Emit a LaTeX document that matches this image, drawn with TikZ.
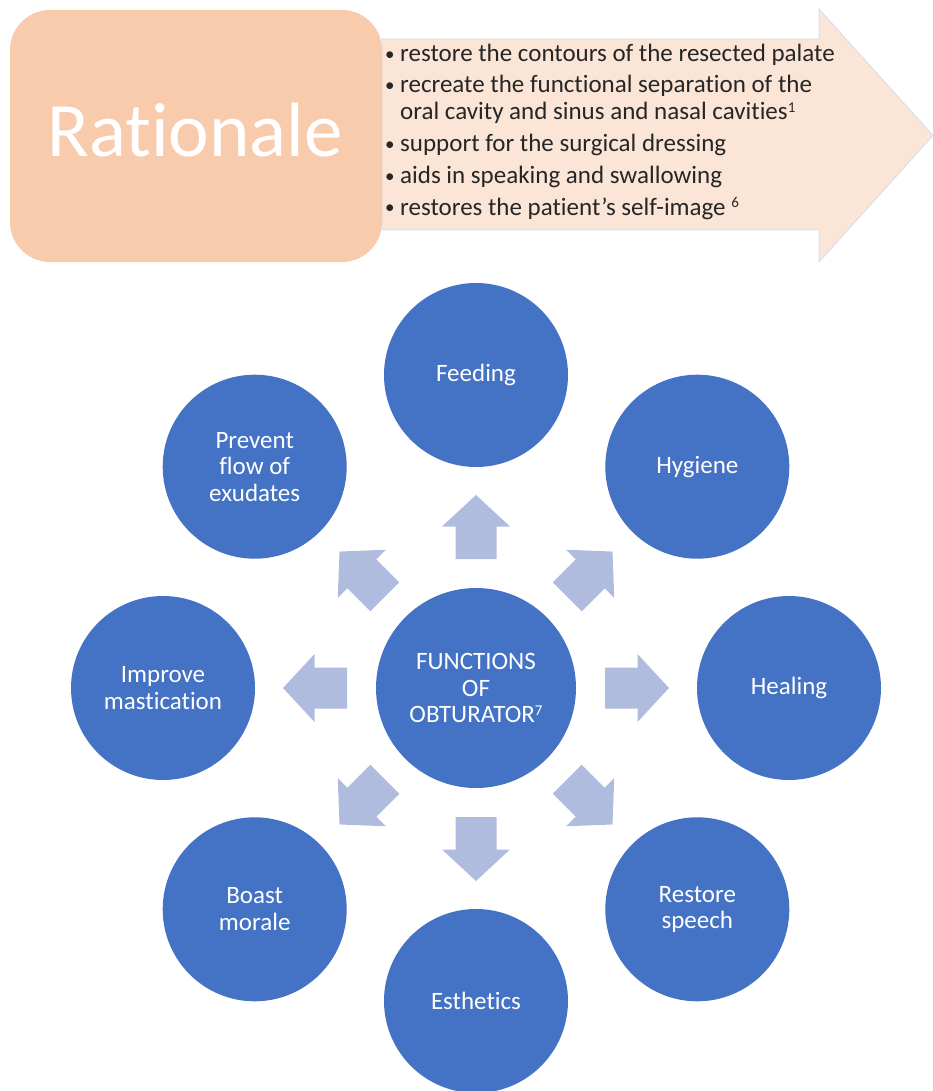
\documentclass[tikz,border=0pt]{standalone}
\usepackage{fontspec}
\setmainfont{Carlito}[Ligatures=NoCommon]

\definecolor{peach}{RGB}{248,203,173}
\definecolor{peachlight}{RGB}{251,229,214}
\definecolor{arrowedge}{RGB}{214,220,235}
\definecolor{discblue}{RGB}{68,114,196}
\definecolor{pointerblue}{RGB}{176,188,222}
\definecolor{ink}{RGB}{38,38,38}

% list bullet and small raised reference numbers
\newcommand\bul{\makebox[15pt][l]{\raisebox{1.5pt}{\fontsize{19}{19}\selectfont\textbullet}}}
\newcommand\refnum[1]{\raisebox{7pt}{\fontsize{15}{15}\selectfont #1}}

\begin{document}
\begin{tikzpicture}[x=1pt,y=-1pt,
  panel/.style={rectangle, rounded corners=40pt, fill=peach, draw=none,
    minimum width=372pt, minimum height=252pt, inner sep=0pt},
  bigtitle/.style={anchor=base, inner sep=0pt, text=white,
    font=\fontsize{77}{81}\selectfont},
  bullettext/.style={anchor=base west, inner sep=0pt, text=ink,
    font=\fontsize{25}{27}\selectfont},
  disc/.style={circle, fill=discblue, draw=none, minimum size=184pt,
    inner sep=0pt, text=white, align=center,
    font=\fontsize{25}{26.5}\selectfont},
  hub/.style={disc, minimum size=200pt},
  pointer/.style={fill=pointerblue, draw=none}
]
\useasboundingbox (0,0) rectangle (933,1091);

% header: block arrow carrying the list
\filldraw[fill=peachlight, draw=arrowedge, line width=0.8pt]
  (382,39) -- (819,39) -- (819,9) -- (933,135.5) -- (819,262)
  -- (819,230) -- (382,230) -- cycle;
\node[panel] (rat) at (196,136) {};
\node[bigtitle] (rattext) at (195,157) {Rationale};

\node[bullettext] (b1) at (385,62) {\bul restore the contours of the resected palate};
\node[bullettext] (b2) at (385,93) {\bul recreate the functional separation of the};
\node[bullettext] (b2b) at (385,120) {\hspace*{15pt}oral cavity and sinus and nasal cavities\refnum{1}};
\node[bullettext] (b3) at (385,152) {\bul support for the surgical dressing};
\node[bullettext] (b4) at (385,184) {\bul aids in speaking and swallowing};
\node[bullettext] (b5) at (385,215) {\bul restores the patient’s self-image \refnum{6}};

% central hub and the eight functions
\node[hub] (hub) at (476,688) {FUNCTIONS\\OF\\OBTURATOR\refnum{7}};
\node[disc] (feed)   at (476,375)     {Feeding};
\node[disc] (hyg)    at (697.3,466.7) {Hygiene};
\node[disc] (heal)   at (789,688)     {Healing};
\node[disc] (speech) at (697.3,909.3) {Restore\\speech};
\node[disc] (esth)   at (476,1001)    {Esthetics};
\node[disc] (morale) at (254.7,909.3) {Boast\\morale};
\node[disc] (mast)   at (163,688)     {Improve\\mastication};
\node[disc] (flow)   at (254.7,466.7) {Prevent\\flow of\\exudates};

% block arrows pointing outwards from the hub
\foreach \a in {90,45,0,-45,-90,-135,180,135}
  \fill[pointer, shift={(hub.center)}, rotate=\a]
    (129,-20.5) -- (161.5,-20.5) -- (161.5,-34) -- (193,0)
    -- (161.5,34) -- (161.5,20.5) -- (129,20.5) -- cycle;
\end{tikzpicture}
\end{document}
